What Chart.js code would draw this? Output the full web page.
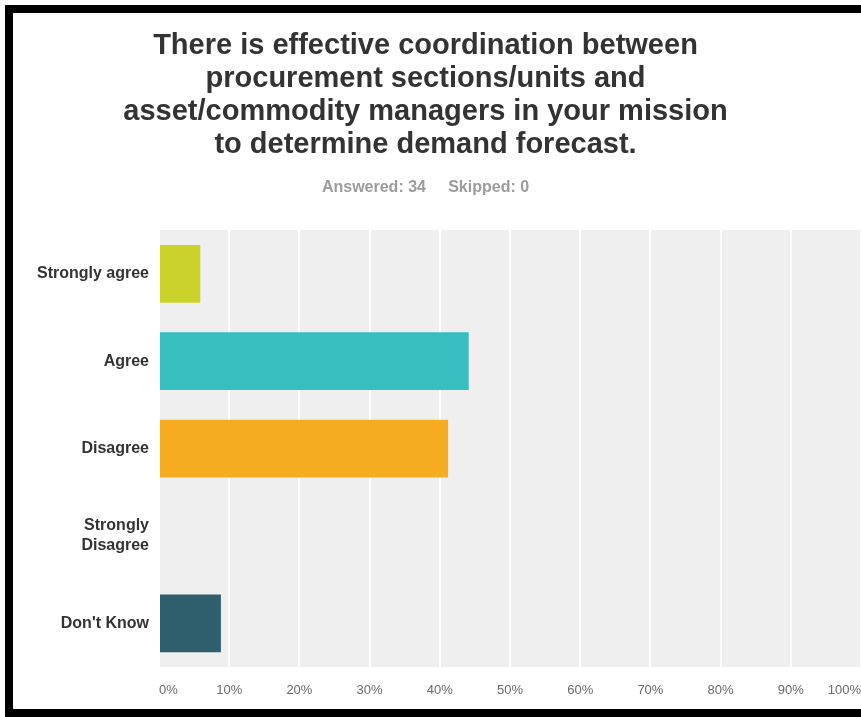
<!DOCTYPE html>
<html>
<head>
<meta charset="utf-8">
<title>Demand forecast coordination</title>
<script src="https://cdn.jsdelivr.net/npm/chart.js@4.4.0/dist/chart.umd.min.js"></script>
<style>
  html, body { margin: 0; padding: 0; background: #fff; }
  #page { position: relative; width: 861px; height: 717px; overflow: hidden; background: #fff; }
  #chartBox { position: absolute; left: -10px; top: 13px; width: 871px; height: 696px; }
  #frame {
    position: absolute; left: 5px; top: 5px; width: 856px; height: 712px;
    box-sizing: border-box; pointer-events: none;
    border-top: 8px solid #000; border-left: 8px solid #000; border-bottom: 8px solid #000;
  }
</style>
</head>
<body>
<div id="page">
  <div id="chartBox"><canvas id="surveyChart" width="871" height="696"></canvas></div>
  <div id="frame"></div>
</div>
<script>
'use strict';
// survey question, answers and share of respondents (%)
var titleLines = [
  'There is effective coordination between',
  'procurement sections/units and',
  'asset/commodity managers in your mission',
  'to determine demand forecast.'
];
var answered = 34;
var skipped = 0;
var categories = ['Strongly agree', 'Agree', 'Disagree', ['Strongly', 'Disagree'], 'Don\'t Know'];
var percentValues = [5.88, 44.12, 41.18, 0, 8.82];
var tickLabels = ['0%', '10%', '20%', '30%', '40%', '50%', '60%', '70%', '80%', '90%', '100%'];

var barColors = ['#cbd32b', '#37bec0', '#f5ac1f', '#cccccc', '#2f5e6d'];
var fontFamily = '"Liberation Sans", Arial, sans-serif';

// grey panel behind the bars
var plotBackground = {
  id: 'plotBackground',
  beforeDraw: function(chart) {
    var area = chart.chartArea;
    var ctx = chart.ctx;
    ctx.save();
    ctx.fillStyle = '#efefef';
    ctx.fillRect(area.left, area.top, area.right - area.left, area.bottom - area.top);
    ctx.restore();
  }
};

var ctx = document.getElementById('surveyChart').getContext('2d');
var chart = new Chart(ctx, {
  type: 'bar',
  data: {
    labels: categories,
    datasets: [{
      data: percentValues,
      backgroundColor: barColors,
      borderWidth: 0,
      barPercentage: 0.66,
      categoryPercentage: 1
    }]
  },
  options: {
    indexAxis: 'y',
    responsive: false,
    animation: false,
    devicePixelRatio: 1,
    events: [],
    layout: { padding: 0 },
    plugins: {
      legend: { display: false },
      tooltip: { enabled: false },
      title: {
        display: true,
        text: titleLines,
        color: '#333333',
        font: { family: fontFamily, size: 29, weight: 'bold', lineHeight: 33 / 29 },
        padding: { top: 16.5, bottom: 6 }
      },
      subtitle: {
        display: true,
        text: 'Answered: ' + answered + '     Skipped: ' + skipped,
        color: '#9c9c9c',
        font: { family: fontFamily, size: 16, weight: 'bold', lineHeight: 1.2 },
        padding: { top: 10, bottom: 33.4 }
      }
    },
    scales: {
      x: {
        min: 0,
        max: 100,
        ticks: {
          stepSize: 10,
          align: 'inner',
          padding: 16,
          color: '#6a6a6a',
          font: { family: fontFamily, size: 13 },
          callback: function(value, index) { return tickLabels[index]; }
        },
        grid: { color: '#ffffff', lineWidth: 2, drawTicks: false },
        border: { display: false },
        afterFit: function(scale) {
          scale.height = 42;
          scale.paddingLeft = 0;
          scale.paddingRight = 0;
        }
      },
      y: {
        ticks: {
          padding: 2,
          color: '#333333',
          font: { family: fontFamily, size: 16, weight: 'bold', lineHeight: 1.25 }
        },
        grid: { display: false },
        border: { display: false },
        afterFit: function(scale) { scale.width = 169; }
      }
    }
  },
  plugins: [plotBackground]
});
</script>
</body>
</html>
